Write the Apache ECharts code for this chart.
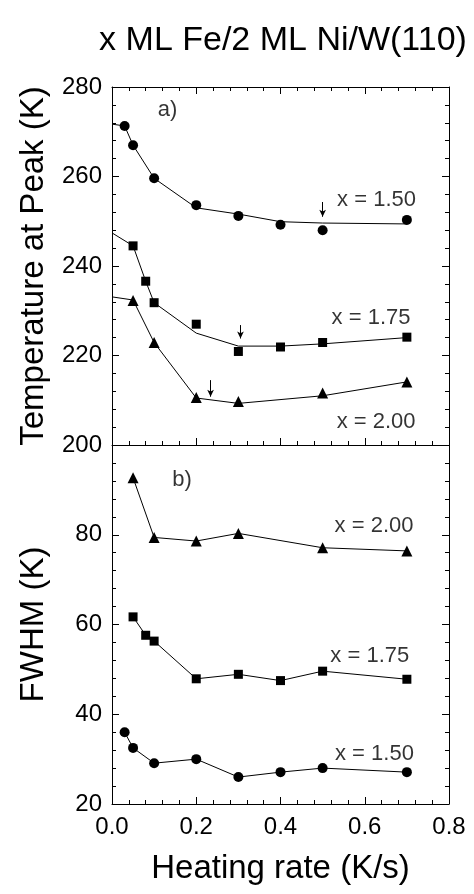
<!DOCTYPE html>
<html>
<head>
<meta charset="utf-8">
<script src="https://cdn.jsdelivr.net/npm/echarts@6/dist/echarts.min.js"></script>
<style>
html,body{margin:0;padding:0;background:#fff;}
#c{width:474px;height:894px;}
</style>
</head>
<body>
<div id="c"></div>
<script>
// ---- Data ----
const titleText = 'x ML Fe/2 ML Ni/W(110)';
const xTickLabels = ['0.0', '0.2', '0.4', '0.6', '0.8'];

// Panel a) peak temperature (K)
const rateA150 = [0.03, 0.05, 0.1, 0.2, 0.3, 0.4, 0.5, 0.7];
const tempA150 = [271.3, 267.0, 259.6, 253.6, 251.2, 249.2, 248.0, 250.3];
const fitRateA150 = [0, 0.03, 0.05, 0.1, 0.2, 0.3, 0.4, 0.5, 0.7];
const fitTempA150 = [271.7, 271.3, 267.0, 259.6, 253.0, 251.6, 249.9, 249.6, 249.4];

const rateA175 = [0.05, 0.08, 0.1, 0.2, 0.3, 0.4, 0.5, 0.7];
const tempA175 = [244.5, 236.6, 231.8, 227.0, 220.9, 221.9, 222.9, 224.1];
const fitRateA175 = [0, 0.05, 0.08, 0.1, 0.2, 0.3, 0.4, 0.5, 0.7];
const fitTempA175 = [247.4, 244.5, 236.6, 231.8, 225.0, 222.1, 222.1, 222.6, 224.0];

const rateA200 = [0.05, 0.1, 0.2, 0.3, 0.5, 0.7];
const tempA200 = [232.3, 222.9, 210.6, 209.7, 211.6, 214.1];
const fitRateA200 = [0, 0.05, 0.1, 0.2, 0.3, 0.5, 0.7];
const fitTempA200 = [233.1, 232.4, 222.9, 210.5, 209.3, 211.0, 214.1];

// arrows marking the minimum (x, top, tip)
const arrowX = [0.5, 0.305, 0.234];
const arrowTop = [254.3, 226.8, 214.5];
const arrowTip = [251.0, 223.8, 210.8];

// Panel b) FWHM (K)
const rateB200 = [0.05, 0.1, 0.2, 0.3, 0.5, 0.7];
const fwhmB200 = [92.7, 79.4, 78.6, 80.3, 77.1, 76.4];
const rateB175 = [0.05, 0.08, 0.1, 0.2, 0.3, 0.4, 0.5, 0.7];
const fwhmB175 = [61.7, 57.6, 56.3, 47.9, 48.9, 47.5, 49.6, 47.8];
const rateB150 = [0.03, 0.05, 0.1, 0.2, 0.3, 0.4, 0.5, 0.7];
const fwhmB150 = [36.0, 32.5, 29.1, 30.0, 26.0, 27.1, 28.0, 27.1];

// annotations [x, y, text]
const labelsA = [[0.132, 274.9, 'a)'], [0.628, 254.75, 'x = 1.50'], [0.615, 228.4, 'x = 1.75'], [0.627, 205.1, 'x = 2.00']];
const labelsB = [[0.166, 92.2, 'b)'], [0.622, 82.0, 'x = 2.00'], [0.612, 53.0, 'x = 1.75'], [0.623, 31.1, 'x = 1.50']];

// ---- Chart ----
const FONT = 'Liberation Sans, Arial, sans-serif';
const pair = (xs, ys) => xs.map((x, i) => [x, ys[i]]);
const chart = echarts.init(document.getElementById('c'), null, {renderer: 'canvas'});

const axLine = {show: true, lineStyle: {color: '#000', width: 1}};
function xAx(grid, pos, labels, name) {
  return {
    type: 'value', gridIndex: grid, position: pos, min: 0, max: 0.8, interval: 0.2,
    axisLine: Object.assign({onZero: false}, axLine),
    axisTick: {show: true, inside: true, length: 7, lineStyle: {color: '#000'}},
    minorTick: {show: true, splitNumber: 5, length: 4, lineStyle: {color: '#000'}},
    splitLine: {show: false}, minorSplitLine: {show: false},
    axisLabel: {show: labels, fontFamily: FONT, fontSize: 24, color: '#000', margin: 11,
      formatter: v => xTickLabels[Math.round(v / 0.2)]},
    name: name || '', nameLocation: 'middle', nameGap: 48,
    nameTextStyle: {fontFamily: FONT, fontSize: 33, color: '#000'}
  };
}
function yAx(grid, pos, min, max, labels, name, hideTop) {
  return {
    type: 'value', gridIndex: grid, position: pos, min: min, max: max, interval: 20,
    axisLine: Object.assign({onZero: false}, axLine),
    axisTick: {show: true, inside: true, length: 7, lineStyle: {color: '#000'}},
    minorTick: {show: true, splitNumber: 5, length: 4, lineStyle: {color: '#000'}},
    splitLine: {show: false}, minorSplitLine: {show: false},
    axisLabel: {show: labels, fontFamily: FONT, fontSize: 24, color: '#000', margin: 10,
      formatter: v => (hideTop && v === max) ? '' : String(v)},
    name: name || '', nameLocation: 'middle', nameGap: 62,
    nameTextStyle: {fontFamily: FONT, fontSize: 33, color: '#000'}
  };
}

const markerStyle = {color: '#000'};
function pts(xi, yi, data, symbol, size) {
  return {type: 'line', xAxisIndex: xi, yAxisIndex: yi, data: data, symbol: symbol, symbolSize: size,
    showSymbol: true, lineStyle: {width: 0, opacity: 0}, itemStyle: markerStyle, silent: true, z: 5, animation: false};
}
function curve(xi, yi, data) {
  return {type: 'line', xAxisIndex: xi, yAxisIndex: yi, data: data, symbol: 'none',
    lineStyle: {color: '#000', width: 1}, silent: true, z: 3, animation: false};
}
function connected(xi, yi, data, symbol, size) {
  return {type: 'line', xAxisIndex: xi, yAxisIndex: yi, data: data, symbol: symbol, symbolSize: size,
    showSymbol: true, lineStyle: {color: '#000', width: 1}, itemStyle: markerStyle, silent: true, z: 4, animation: false};
}
function labels(xi, yi, arr) {
  return {type: 'scatter', xAxisIndex: xi, yAxisIndex: yi, data: arr.map(a => ({value: [a[0], a[1]], name: a[2]})),
    symbolSize: 0, silent: true, animation: false,
    label: {show: true, position: 'inside', formatter: p => p.name, fontFamily: FONT, fontSize: 22, color: '#000'}};
}

const arrows = {
  type: 'line', xAxisIndex: 0, yAxisIndex: 0, data: [], silent: true, animation: false,
  markLine: {
    silent: true, symbol: ['none', 'arrow'], symbolSize: [5, 7], label: {show: false},
    lineStyle: {color: '#000', width: 1, type: 'solid'}, animation: false,
    data: arrowX.map((x, i) => [{coord: [x, arrowTop[i]]}, {coord: [x, arrowTip[i]]}])
  }
};

const option = {
  backgroundColor: '#fff',
  animation: false,
  title: {text: titleText, left: 278, top: 19, textAlign: 'center',
    textStyle: {fontFamily: FONT, fontSize: 34, fontWeight: 'normal', color: '#000'}},
  grid: [
    {left: 112, top: 87, width: 337, height: 358, containLabel: false},
    {left: 112, top: 445, width: 337, height: 359, containLabel: false}
  ],
  xAxis: [
    xAx(0, 'bottom', false),
    xAx(0, 'top', false),
    xAx(1, 'bottom', true, 'Heating rate (K/s)')
  ],
  yAxis: [
    yAx(0, 'left', 200, 280, true, 'Temperature at Peak (K)', false),
    yAx(0, 'right', 200, 280, false),
    yAx(1, 'left', 20, 100, true, 'FWHM (K)', true),
    yAx(1, 'right', 20, 100, false)
  ],
  series: [
    curve(0, 0, pair(fitRateA150, fitTempA150)),
    curve(0, 0, pair(fitRateA175, fitTempA175)),
    curve(0, 0, pair(fitRateA200, fitTempA200)),
    pts(0, 0, pair(rateA150, tempA150), 'circle', 10),
    pts(0, 0, pair(rateA175, tempA175), 'rect', 9),
    pts(0, 0, pair(rateA200, tempA200), 'triangle', 11),
    arrows,
    labels(0, 0, labelsA),
    connected(2, 2, pair(rateB200, fwhmB200), 'triangle', 11),
    connected(2, 2, pair(rateB175, fwhmB175), 'rect', 9),
    connected(2, 2, pair(rateB150, fwhmB150), 'circle', 10),
    labels(2, 2, labelsB)
  ]
};
chart.setOption(option);
</script>
</body>
</html>
